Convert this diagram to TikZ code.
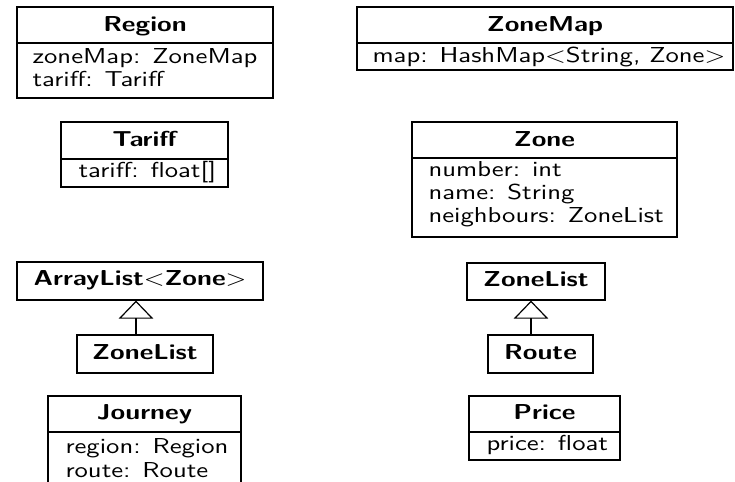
\documentclass[tikz,border=0pt]{standalone}
\usetikzlibrary{fit,arrows.meta}
\newcommand\vsq[1]{\scalebox{1}[0.81]{#1}}
\tikzset{
  umlbox/.style={draw, line width=0.45pt, inner sep=0pt},
  ttl/.style={anchor=base, inner sep=0pt, font=\sffamily\bfseries\fontsize{10}{12}\selectfont},
  attr/.style={anchor=base west, inner sep=0pt, font=\sffamily\fontsize{10}{12}\selectfont},
  sep/.style={line width=0.45pt},
  inherit/.style={line width=0.45pt, -{Triangle[open,width=13pt,length=6.8pt]}}
}
\begin{document}
\begin{tikzpicture}[x=0.375pt,y=-0.375pt]
\useasboundingbox (0,0) rectangle (735,482);
\clip (0,0) rectangle (735,482);
% Region
\node[umlbox, fit={(17,7) (273,98)}] (region) {};
\draw[sep] (17,43) -- (273,43);
\node[ttl] (regionT) at (145,32) {\vsq{Region}};
\node[attr] (regionA1) at (32,64) {\vsq{zoneMap: ZoneMap}};
\node[attr] (regionA2) at (32,87) {\vsq{tariff: Tariff}};
% ZoneMap
\node[umlbox, fit={(357,7) (733,70)}] (zonemap) {};
\draw[sep] (357,43) -- (733,43);
\node[ttl] (zonemapT) at (545,32) {\vsq{ZoneMap}};
\node[attr] (zonemapA1) at (372,63) {\vsq{map: HashMap$<$String, Zone$>$}};
% Tariff
\node[umlbox, fit={(61,122) (228,187)}] (tariff) {};
\draw[sep] (61,159) -- (228,159);
\node[ttl] (tariffT) at (144.5,147) {\vsq{Tariff}};
\node[attr] (tariffA1) at (78,178) {\vsq{tariff: float[]}};
% Zone
\node[umlbox, fit={(412,122) (677,237)}] (zone) {};
\draw[sep] (412,158) -- (677,158);
\node[ttl] (zoneT) at (544.5,147) {\vsq{Zone}};
\node[attr] (zoneA1) at (428,177) {\vsq{number: int}};
\node[attr] (zoneA2) at (428,200) {\vsq{name: String}};
\node[attr] (zoneA3) at (428,223) {\vsq{neighbours: ZoneList}};
% ArrayList<Zone>
\node[umlbox, fit={(17,262) (263,300)}] (alist) {};
\node[ttl] (alistT) at (140,286) {\vsq{ArrayList$<$Zone$>$}};
% ZoneList (left)
\node[umlbox, fit={(77,335) (213,373)}] (zlistL) {};
\node[ttl] (zlistLT) at (145,360) {\vsq{ZoneList}};
\coordinate (axL) at (136,0);
\draw[inherit] (zlistL.north -| axL) -- (alist.south -| axL);
% ZoneList (right)
\node[umlbox, fit={(467,263) (605,300)}] (zlistR) {};
\node[ttl] (zlistRT) at (536,287) {\vsq{ZoneList}};
% Route
\node[umlbox, fit={(488,335) (593,373)}] (route) {};
\node[ttl] (routeT) at (540.5,360) {\vsq{Route}};
\coordinate (axR) at (531,0);
\draw[inherit] (route.north -| axR) -- (zlistR.south -| axR);
% Journey
\node[umlbox, fit={(48,396) (241,492)}] (journey) {};
\draw[sep] (48,432) -- (241,432);
\node[ttl] (journeyT) at (144.5,420) {\vsq{Journey}};
\node[attr] (journeyA1) at (65,454) {\vsq{region: Region}};
\node[attr] (journeyA2) at (65,478) {\vsq{route: Route}};
% Price
\node[umlbox, fit={(469,396) (620,460)}] (price) {};
\draw[sep] (469,432) -- (620,432);
\node[ttl] (priceT) at (544.5,420) {\vsq{Price}};
\node[attr] (priceA1) at (486,451) {\vsq{price: float}};
\end{tikzpicture}
\end{document}
